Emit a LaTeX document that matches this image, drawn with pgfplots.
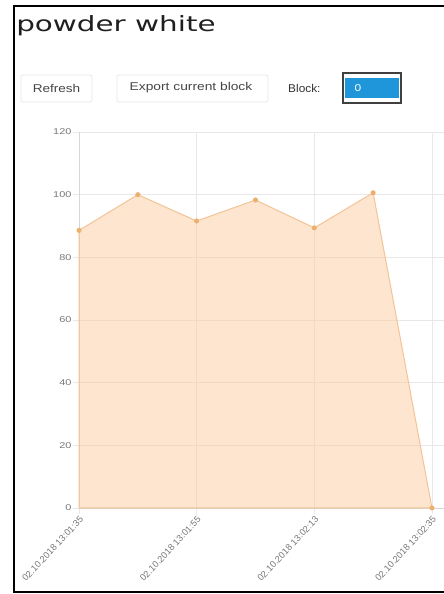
\documentclass[border=0pt]{standalone}
\usepackage{pgfplots}
\pgfplotsset{compat=1.18}
\usepackage{fontspec}
\setmainfont{Liberation Sans}
\newfontfamily\titlefont{DejaVu Sans}
\definecolor{gridc}{RGB}{232,232,232}
\definecolor{axc}{RGB}{215,215,215}
\definecolor{tickc}{RGB}{120,120,120}
\definecolor{linec}{RGB}{243,196,150}
\definecolor{fillc}{RGB}{252,204,160}
\definecolor{markc}{RGB}{236,176,110}
\definecolor{btnborder}{RGB}{232,232,232}
\definecolor{btntext}{RGB}{70,70,70}
\definecolor{inputblue}{RGB}{32,150,218}
\begin{document}
\begin{tikzpicture}[x=1pt,y=1pt]
\useasboundingbox (0,0) rectangle (444,594);
\fill[white] (0,0) rectangle (444,594);
% frame
\draw[black,line width=2pt] (444,588) -- (13.5,588) -- (13.5,2) -- (444,2);
% title
\node[anchor=base west,inner sep=0pt,xscale=1.4,text=black!88] at (16,562) {\titlefont\fontsize{21}{21}\selectfont powder white};
% buttons
\draw[btnborder,line width=0.8pt,rounded corners=2pt] (21,492) rectangle (92,519);
\node[text=btntext,xscale=1.2,inner sep=0pt] at (56.5,506) {\fontsize{11.3}{11.3}\selectfont Refresh};
\draw[btnborder,line width=0.8pt,rounded corners=2pt] (117,492) rectangle (268,519);
\node[text=btntext,xscale=1.22,inner sep=0pt] at (191,506) {\fontsize{11.3}{11.3}\selectfont Export current block};
\node[text=black!80,anchor=west,inner sep=0pt,xscale=1.05] at (288,506) {\fontsize{11.3}{11.3}\selectfont Block:};
\fill[white] (343,491) rectangle (401,521);
\fill[inputblue] (345,496) rectangle (399,516);
\draw[black!75,line width=1.3pt] (343,491) rectangle (401,521);
\node[text=white,inner sep=0pt,xscale=1.2] at (358,506) {\fontsize{10}{10}\selectfont 0};
\begin{axis}[
  at={(79pt,86pt)}, anchor=south west,
  scale only axis, width=411.8pt, height=376pt,
  xmin=0, xmax=7, ymin=0, ymax=120,
  axis x line=bottom, axis y line=left,
  axis line style={axc,-},
  xtick={0,2,4,6},
  xticklabels={02.10.2018 13:01:35,02.10.2018 13:01:55,02.10.2018 13:02:13,02.10.2018 13:02:35},
  ytick={0,20,...,120},
  grid=major, major grid style={gridc,line width=0.7pt},
  tick align=outside, major tick length=6pt,
  tick style={gridc,line width=0.7pt},
  /pgf/number format/assume math mode=true,
  yticklabel style={text=tickc,font=\fontsize{8.4}{8.4}\selectfont,xscale=1.3,anchor=east,inner sep=1pt},
  xticklabel style={text=tickc,font=\fontsize{9.2}{9.2}\selectfont,rotate=47,anchor=north east,inner sep=1pt},
  clip=false,
]
\addplot[draw=linec, line width=1pt, fill=fillc, fill opacity=0.5,
  mark=*, mark size=2pt, mark options={fill=markc,draw=markc,fill opacity=1}]
  coordinates {(0,88.6) (1,100) (2,91.6) (3,98.3) (4,89.4) (5,100.6) (6,0)} \closedcycle;
\end{axis}
\end{tikzpicture}
\end{document}
